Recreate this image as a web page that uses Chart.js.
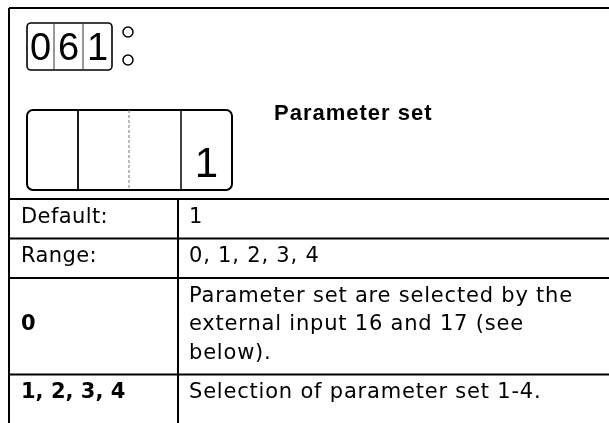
<!DOCTYPE html>
<html><head><meta charset="utf-8">
<script src="https://cdn.jsdelivr.net/npm/chart.js@4/dist/chart.umd.min.js"></script>
<style>html,body{margin:0;padding:0;background:#fff;}canvas{display:block;}</style>
</head><body>
<canvas id="c" width="609" height="423"></canvas>
<script>
// ---- content ----
const paramCode = ['0', '6', '1'];
const displayDigits = ['', '', '', '1'];
const titleText = 'Parameter set';
const rowLabels = ['Default:', 'Range:', '0', '1, 2, 3, 4'];
const rowLabelBold = [false, false, true, true];
const rowValues = [
  ['1'],
  ['0, 1, 2, 3, 4'],
  ['Parameter set are selected by the', 'external input 16 and 17 (see', 'below).'],
  ['Selection of parameter set 1-4.']
];

const INK = '#000';

const tablePlugin = {
  id: 'paramTable',
  afterDraw(chart) {
    const ctx = chart.ctx;
    const X = v => chart.scales.x.getPixelForValue(v);
    const Y = v => chart.scales.y.getPixelForValue(v);
    const spacing = s => { try { ctx.letterSpacing = s; } catch (e) {} };
    ctx.save();
    ctx.strokeStyle = INK;
    ctx.fillStyle = INK;
    const line = (x1, y1, x2, y2, w) => {
      ctx.lineWidth = w;
      ctx.beginPath(); ctx.moveTo(X(x1), Y(y1)); ctx.lineTo(X(x2), Y(y2)); ctx.stroke();
    };
    const rrect = (x1, y1, x2, y2, r, w) => {
      ctx.lineWidth = w;
      ctx.beginPath();
      ctx.roundRect(X(x1), Y(y1), X(x2) - X(x1), Y(y2) - Y(y1), r);
      ctx.stroke();
    };

    // outer frame
    const left = 9, top = 8, right = 609, bottom = 423, sect = 199, colX = 178;
    line(left, top, right, top, 2);
    line(left, top, left, bottom, 2);
    line(left, sect, right, sect, 2);
    line(colX, sect, colX, bottom, 2);

    // small code display
    const sb = {x1: 27, y1: 23, x2: 112, y2: 70};
    rrect(sb.x1, sb.y1, sb.x2, sb.y2, 4, 1.6);
    const sDiv = [sb.x1, 54, 83, sb.x2];
    ctx.strokeStyle = '#333';
    for (let i = 1; i < sDiv.length - 1; i++) line(sDiv[i], sb.y1, sDiv[i], sb.y2, 1);
    ctx.strokeStyle = INK;
    ctx.font = '38px "Liberation Sans", Arial, sans-serif';
    ctx.textAlign = 'center'; ctx.textBaseline = 'alphabetic';
    paramCode.forEach((d, i) => {
      ctx.fillText(d, X((sDiv[i] + sDiv[i + 1]) / 2), Y(60));
    });
    // indicator circles
    ctx.lineWidth = 1.5;
    [32, 60].forEach(cy => {
      ctx.beginPath(); ctx.arc(X(128), Y(cy), 5, 0, Math.PI * 2); ctx.stroke();
    });

    // big display
    const bb = {x1: 27, y1: 110, x2: 232, y2: 190};
    rrect(bb.x1, bb.y1, bb.x2, bb.y2, 6, 2);
    const bDiv = [bb.x1, 78, 129, 181, bb.x2];
    line(78, bb.y1, 78, bb.y2, 1.8);
    ctx.strokeStyle = '#777';
    ctx.setLineDash([3, 2]);
    line(129, bb.y1, 129, bb.y2, 1);
    ctx.setLineDash([]);
    ctx.strokeStyle = INK;
    line(181, bb.y1, 181, bb.y2, 1.5);
    ctx.font = '42px "Liberation Sans", Arial, sans-serif';
    displayDigits.forEach((d, i) => {
      if (d) ctx.fillText(d, X((bDiv[i] + bDiv[i + 1]) / 2), Y(177));
    });

    // title
    ctx.textAlign = 'left';
    spacing('1px');
    ctx.font = 'bold 22px "Liberation Sans", Arial, sans-serif';
    ctx.fillText(titleText, X(274), Y(120));

    // table rows
    const oneRow = 39.5, lineH = 28.5;
    let rowTop = sect;
    rowValues.forEach((vals, i) => {
      const h = oneRow + (vals.length - 1) * lineH;
      const base = rowTop + 23.5;
      spacing('0.8px');
      ctx.font = '21px "DejaVu Sans", sans-serif';
      vals.forEach((t, j) => ctx.fillText(t, X(189), Y(base + j * lineH)));
      spacing(rowLabelBold[i] ? '0px' : '0.4px');
      ctx.font = (rowLabelBold[i] ? 'bold ' : '') + '21px "DejaVu Sans", sans-serif';
      ctx.fillText(rowLabels[i], X(21), Y(base + (vals.length - 1) / 2 * lineH));
      rowTop += h;
      if (i < rowValues.length - 1) line(left, rowTop, right, rowTop, 2);
    });
    ctx.restore();
  }
};

new Chart(document.getElementById('c'), {
  type: 'scatter',
  data: { datasets: [{ data: [] }] },
  options: {
    responsive: false,
    animation: false,
    layout: { padding: 0 },
    plugins: { legend: { display: false }, tooltip: { enabled: false } },
    scales: {
      x: { type: 'linear', min: 0, max: 609, display: false },
      y: { type: 'linear', min: 0, max: 423, reverse: true, display: false }
    }
  },
  plugins: [tablePlugin]
});
</script>
</body></html>
